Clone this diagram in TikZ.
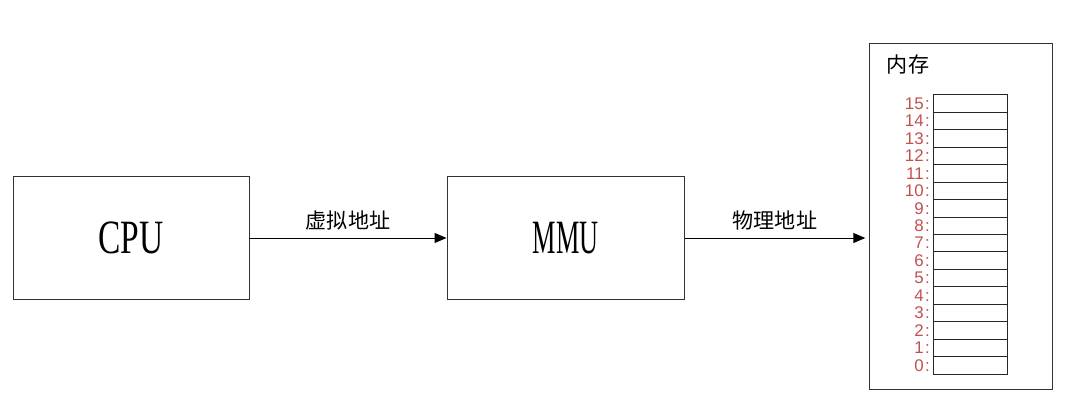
\documentclass[tikz,border=0pt]{standalone}
\usepackage{fontspec}
\setmainfont{Liberation Serif}
\newfontfamily\cjk{Noto Sans CJK SC}
\newfontfamily\numfont{Liberation Sans}
\usepackage{graphicx}
\usepackage{tikz}
\usetikzlibrary{arrows.meta}
\usepackage{xcolor}
\definecolor{addrred}{HTML}{C0504D}

\begin{document}
\begin{tikzpicture}[
    x=1cm,y=1cm,>={Triangle[length=3mm,width=2.5mm]},
    unit/.style={draw=black!80,line width=0.7pt,minimum width=5.9cm,minimum height=3.05cm,
        font=\fontsize{34}{40}\selectfont},
    link/.style={->,line width=0.7pt},
    linklabel/.style={font=\cjk\fontsize{15}{18}\selectfont,above=2pt},
    cellbox/.style={draw=black!85,line width=0.7pt,minimum width=1.85cm,minimum height=0.436cm,inner sep=0pt},
    addr/.style={anchor=east,text=addrred,inner sep=0pt,font=\numfont\fontsize{12}{13}\selectfont}
]
\useasboundingbox (0,0) rectangle (27,10.375);
% Processor and address translation.
\node[unit] (cpu) at (3.275,4.425) {\scalebox{0.7}[1]{CPU}};
\node[unit,minimum width=5.925cm] (mmu) at (14.1375,4.425) {\scalebox{0.55}[1]{MMU}};
% Main memory.
\node[draw=black!80,line width=0.7pt,minimum width=4.575cm,minimum height=8.625cm] (mem) at (24.0125,4.9625) {};
\node[anchor=west,font=\cjk\fontsize{15}{18}\selectfont] (memtitle) at (22.05,8.75) {内存};
\foreach \i in {0,...,15}{
    \node[cellbox] (cell\i) at (24.25,{1.025+(\i+0.5)*0.436}) {};
    \node[addr] (addr\i) at ([xshift=-0.06cm]cell\i.west) {\i\kern1pt:};
}
% Addresses.
\draw[link] (cpu.east) -- node[linklabel] (vaddr) {虚拟地址} (mmu.west);
\coordinate (memin) at ([xshift=-0.08cm]mmu.east -| mem.west);
\draw[link] (mmu.east) -- node[linklabel] (paddr) {物理地址} (memin);
\end{tikzpicture}
\end{document}
